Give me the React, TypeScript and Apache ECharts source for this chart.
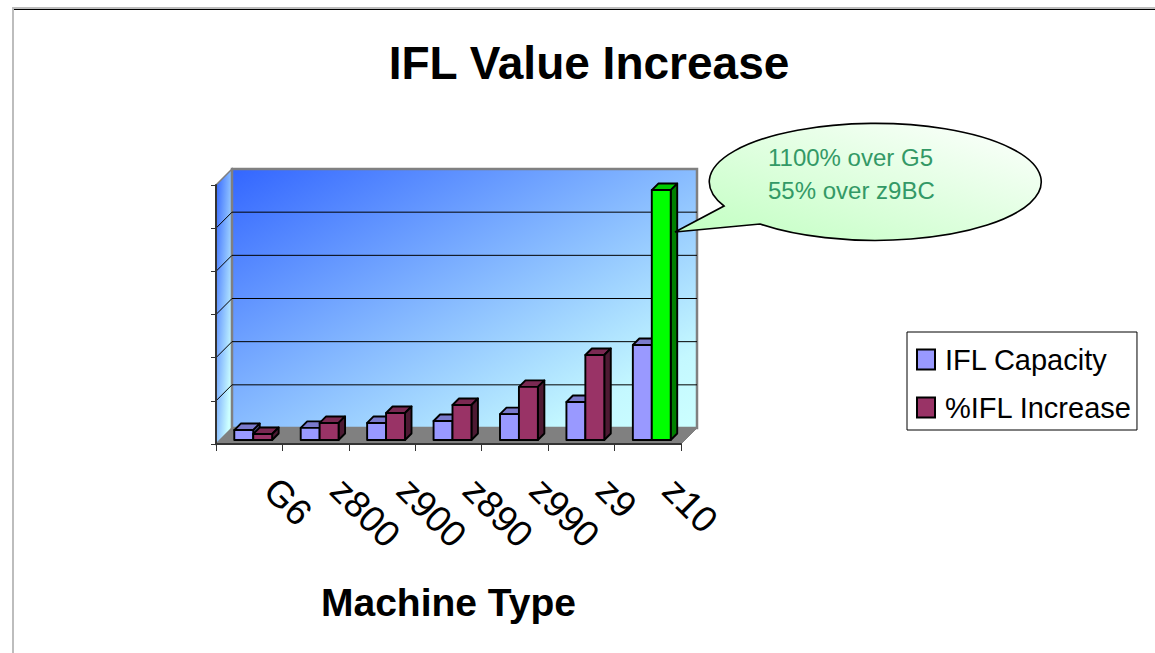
import React, { useEffect, useRef } from "react";
import * as echarts from "echarts";

const categories = ["G6", "z800", "z900", "z890", "z990", "z9", "z10"];
const iflCapacity = [46, 56, 79, 88, 120, 176, 440];
const iflIncrease = [28, 79, 125, 162, 246, 394, 1158];
const yTicks = [0, 200, 400, 600, 800, 1000, 1200];
const seriesNames = ["IFL Capacity", "%IFL Increase"];
const calloutLines = ["1100% over G5", "55% over z9BC"];

const FONT = "'Liberation Sans', Arial, sans-serif";
const WALL_DEPTH = 16;
const BAR_SHIFT = 4;
const BAR_DEPTH = 6.5;
const BAR_RATIO = 0.285;

type Cols = { front: string; top: string; side: string };
const BLUE: Cols = { front: "#9999FF", top: "#7A7ACC", side: "#5C5C99" };
const MAROON: Cols = { front: "#993366", top: "#7A2952", side: "#4D1A33" };
const GREEN: Cols = { front: "#00FF00", top: "#00CC00", side: "#008000" };

const CALLOUT_D = "M760 224 A166 58.5 0 1 0 724 206 L675 232 Z";
echarts.graphic.registerShape(
  "calloutBubble",
  echarts.graphic.extendPath(CALLOUT_D, {}) as any
);

function box3d(x0: number, x1: number, yTop: number, yBase: number, c: Cols) {
  const d = BAR_DEPTH;
  const stroke = { stroke: "#000", lineWidth: 1.9, lineJoin: "round" };
  return [
    { type: "polygon", shape: { points: [[x0, yTop], [x0 + d, yTop - d], [x1 + d, yTop - d], [x1, yTop]] }, style: { fill: c.top, ...stroke } },
    { type: "polygon", shape: { points: [[x1, yTop], [x1 + d, yTop - d], [x1 + d, yBase - d], [x1, yBase]] }, style: { fill: c.side, ...stroke } },
    { type: "rect", shape: { x: x0, y: yTop, width: x1 - x0, height: yBase - yTop }, style: { fill: c.front, ...stroke } },
  ];
}

function barRender(seriesIdx: number) {
  return (_p: any, api: any) => {
    const idx = api.value(0);
    const val = api.value(1);
    const [cx, yTop] = api.coord([idx, val]);
    const [, yBase] = api.coord([idx, 0]);
    const w = api.size([1, 0])[0] * BAR_RATIO;
    const x0 = cx + BAR_SHIFT + (seriesIdx === 0 ? -w : 0);
    const colours = seriesIdx === 0 ? BLUE : idx === categories.length - 1 ? GREEN : MAROON;
    return {
      type: "group",
      children: box3d(x0, x0 + w, yTop - BAR_SHIFT, yBase - BAR_SHIFT, colours),
    };
  };
}

function wallRender(params: any, api: any) {
  const cs = params.coordSys;
  const L = cs.x, R = cs.x + cs.width, T = cs.y, B = cs.y + cs.height;
  const d = WALL_DEPTH;
  const lines: any[] = [];
  yTicks.slice(1, -1).forEach((t) => {
    const y = api.coord([0, t])[1];
    lines.push({ type: "line", shape: { x1: L, y1: y, x2: L + d, y2: y - d }, style: { stroke: "#000", lineWidth: 1 } });
    lines.push({ type: "line", shape: { x1: L + d, y1: y - d, x2: R + d, y2: y - d }, style: { stroke: "#000", lineWidth: 1 } });
  });
  return {
    type: "group",
    children: [
      {
        type: "polygon",
        shape: { points: [[L, T], [L + d, T - d], [L + d, B - d], [L, B]] },
        style: {
          fill: new echarts.graphic.LinearGradient(0, 0, 1, 1, [
            { offset: 0, color: "#3366FF" },
            { offset: 0.85, color: "#CCFFFF" },
          ]),
          stroke: "#808080",
          lineWidth: 1.5,
        },
      },
      {
        type: "rect",
        shape: { x: L + d, y: T - d, width: cs.width, height: cs.height },
        style: {
          fill: new echarts.graphic.LinearGradient(0, 0, 1, 1, [
            { offset: 0, color: "#3366FF" },
            { offset: 0.85, color: "#C4F8FF" },
            { offset: 1, color: "#CCFFFF" },
          ]),
          stroke: "#808080",
          lineWidth: 2.5,
        },
      },
      ...lines,
      {
        type: "polygon",
        shape: { points: [[L, B], [L + d, B - d], [R + d, B - d], [R, B]] },
        style: { fill: "#808080", stroke: "#808080", lineWidth: 1 },
      },
    ],
  };
}

export default function App() {
  const ref = useRef<HTMLDivElement>(null);
  useEffect(() => {
    const chart = echarts.init(ref.current!, undefined, { renderer: "svg" });
    const axisLine = { show: true, lineStyle: { color: "#333", width: 2 } };
    chart.setOption({
      animation: false,
      backgroundColor: "#fff",
      title: {
        text: "IFL Value Increase",
        left: 589,
        top: 40,
        padding: 0,
        textAlign: "center",
        textStyle: { fontFamily: FONT, fontSize: 46, fontWeight: "bold", color: "#000" },
      },
      grid: { left: 216, top: 185, width: 465, height: 259 },
      xAxis: {
        type: "category",
        data: categories,
        z: 5,
        axisLine,
        axisTick: { show: true, length: 7, lineStyle: { color: "#333", width: 1 } },
        axisLabel: {
          interval: 0,
          rotate: -45,
          fontFamily: FONT,
          fontSize: 37,
          color: "#000",
          margin: 19,
          align: "left",
          verticalAlign: "middle",
          padding: [0, 0, 0, 30],
        },
        name: "Machine Type",
        nameLocation: "middle",
        nameGap: 139,
        nameTextStyle: { fontFamily: FONT, fontSize: 39, fontWeight: "bold", color: "#000" },
      },
      yAxis: {
        type: "value",
        min: 0,
        max: 1200,
        interval: 200,
        z: 5,
        axisLine,
        axisTick: { show: true, length: 5, lineStyle: { color: "#333", width: 1 } },
        axisLabel: { show: false },
        splitLine: { show: false },
      },
      legend: {
        orient: "vertical",
        left: 907,
        top: 332,
        width: 230,
        data: seriesNames,
        padding: [13, 5, 8, 9],
        itemGap: 19,
        itemWidth: 18,
        itemHeight: 20,
        backgroundColor: "#fff",
        borderColor: "#000",
        borderWidth: 1,
        icon: "rect",
        textStyle: { fontFamily: FONT, fontSize: 29, color: "#000", padding: [0, 0, 0, 5] },
      },
      series: [
        {
          type: "custom",
          name: "walls",
          data: [[0, 0]],
          renderItem: wallRender,
          silent: true,
          encode: { x: 0, y: 1 },
          z: 1,
        },
        {
          type: "custom",
          name: seriesNames[0],
          data: iflCapacity.map((v, i) => [i, v]),
          renderItem: barRender(0),
          encode: { x: 0, y: 1 },
          itemStyle: { color: BLUE.front, borderColor: "#000", borderWidth: 1.9 },
          z: 2,
        },
        {
          type: "custom",
          name: seriesNames[1],
          data: iflIncrease.map((v, i) => [i, v]),
          renderItem: barRender(1),
          encode: { x: 0, y: 1 },
          itemStyle: { color: MAROON.front, borderColor: "#000", borderWidth: 1.9 },
          z: 3,
        },
      ],
      graphic: [
        { type: "rect", z: 20, shape: { x: 12, y: 7, width: 1143, height: 2 }, style: { fill: "#BDBDBD" } },
        { type: "rect", z: 20, shape: { x: 12, y: 9, width: 1143, height: 1 }, style: { fill: "#000" } },
        { type: "rect", z: 20, shape: { x: 12, y: 7, width: 2, height: 646 }, style: { fill: "#BDBDBD" } },
        {
          type: "calloutBubble",
          z: 20,
          style: {
            fill: new echarts.graphic.LinearGradient(0, 1, 1, 0, [
              { offset: 0, color: "#BFFFBF" },
              { offset: 1, color: "#FFFFFF" },
            ]),
            stroke: "#000",
            lineWidth: 1.6,
          },
        },
        { type: "text", z: 21, x: 768, y: 145, style: { text: calloutLines[0], fontFamily: FONT, fontSize: 24, fill: "#339966" } },
        { type: "text", z: 21, x: 768, y: 178, style: { text: calloutLines[1], fontFamily: FONT, fontSize: 24, fill: "#339966" } },
      ],
    });
    return () => chart.dispose();
  }, []);
  return <div ref={ref} style={{ position: "absolute", left: 0, top: 0, width: 1155, height: 653 }} />;
}
